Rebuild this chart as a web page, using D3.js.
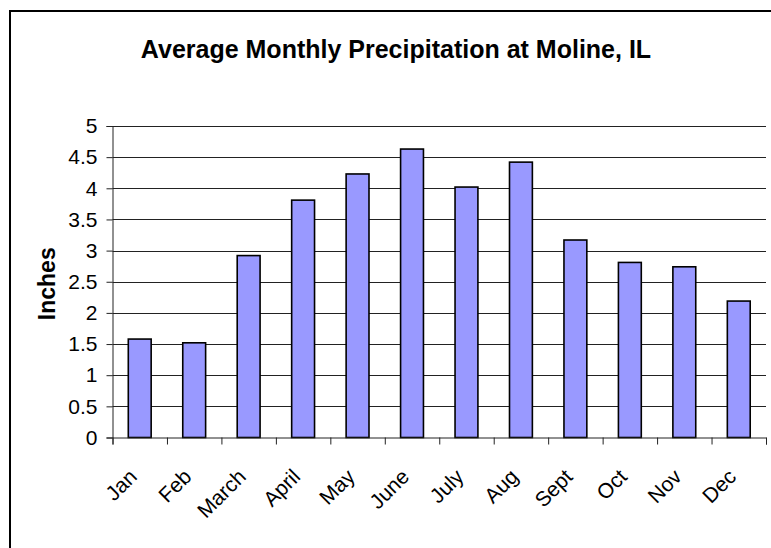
<!DOCTYPE html>
<html>
<head>
<meta charset="utf-8">
<script src="https://cdn.jsdelivr.net/npm/d3@7"></script>
<style>
  html, body { margin: 0; padding: 0; background: #fff; }
  svg { display: block; }
  text { font-family: "Liberation Sans", Arial, sans-serif; }
</style>
</head>
<body>
<svg id="chart" width="771" height="548"></svg>
<script>
const months = ["Jan", "Feb", "March", "April", "May", "June", "July", "Aug", "Sept", "Oct", "Nov", "Dec"];
const precipitation = [1.58, 1.52, 2.92, 3.81, 4.23, 4.63, 4.02, 4.42, 3.17, 2.81, 2.74, 2.19];
const yTicks = [0, 0.5, 1, 1.5, 2, 2.5, 3, 3.5, 4, 4.5, 5];
const titleText = "Average Monthly Precipitation at Moline, IL";
const yTitle = "Inches";

const svg = d3.select("#chart");
const plot = { left: 112.5, right: 766, top: 126, bottom: 437.5 };

// outer frame
svg.append("rect")
  .attr("x", 10).attr("y", 11)
  .attr("width", 800).attr("height", 600)
  .attr("fill", "none").attr("stroke", "#000").attr("stroke-width", 2);

const x = d3.scaleBand()
  .domain(months)
  .range([plot.left, plot.right])
  .paddingInner(0.58).paddingOuter(0.29);

const y = d3.scaleLinear().domain([0, 5]).range([plot.bottom, plot.top]);

// gridlines
svg.append("g")
  .selectAll("line")
  .data(yTicks.filter(d => d > 0))
  .join("line")
  .attr("x1", plot.left).attr("x2", plot.right)
  .attr("y1", d => Math.round(y(d)) + 0.5).attr("y2", d => Math.round(y(d)) + 0.5)
  .attr("stroke", "#222").attr("stroke-width", 1);

// bars
svg.append("g")
  .selectAll("rect")
  .data(precipitation)
  .join("rect")
  .attr("x", (d, i) => x(months[i]))
  .attr("y", d => y(d))
  .attr("width", x.bandwidth())
  .attr("height", d => y(0) - y(d))
  .attr("fill", "#9999FF")
  .attr("stroke", "#000")
  .attr("stroke-width", 1.6);

// y axis
const yAxis = d3.axisLeft(y).tickValues(yTicks).tickSize(6).tickPadding(9)
  .tickFormat(d3.format("~g"));
const gy = svg.append("g")
  .attr("transform", `translate(${plot.left},0)`)
  .call(yAxis);
gy.select(".domain").attr("stroke", "#222");
gy.selectAll(".tick line").attr("stroke", "#222");
gy.selectAll("text")
  .attr("font-size", 21)
  .attr("fill", "#000")
  .style("font-family", "'Liberation Sans', Arial, sans-serif");

// x axis with ticks at band boundaries
const boundaryScale = d3.scaleLinear().domain([0, months.length]).range([plot.left, plot.right]);
const gx = svg.append("g").attr("transform", `translate(0,${plot.bottom})`);
gx.call(d3.axisBottom(boundaryScale).tickValues(d3.range(0, months.length + 1)).tickSize(7).tickFormat(""));
gx.select(".domain").attr("stroke", "#222");
gx.selectAll(".tick line").attr("stroke", "#222");

// month labels
svg.append("g")
  .selectAll("text")
  .data(months)
  .join("text")
  .attr("transform", d => `translate(${x(d) + x.bandwidth() / 2 - 12},${plot.bottom + 30}) rotate(-45)`)
  .attr("text-anchor", "end")
  .attr("dy", "0.71em")
  .attr("font-size", 21)
  .attr("fill", "#000")
  .text(d => d);

// title
svg.append("text")
  .attr("x", 396).attr("y", 58)
  .attr("text-anchor", "middle")
  .attr("font-size", 25)
  .attr("font-weight", "bold")
  .text(titleText);

// y title
svg.append("text")
  .attr("transform", `translate(55,${(plot.top + plot.bottom) / 2 + 2}) rotate(-90)`)
  .attr("text-anchor", "middle")
  .attr("font-size", 23)
  .attr("font-weight", "bold")
  .text(yTitle);
</script>
</body>
</html>
